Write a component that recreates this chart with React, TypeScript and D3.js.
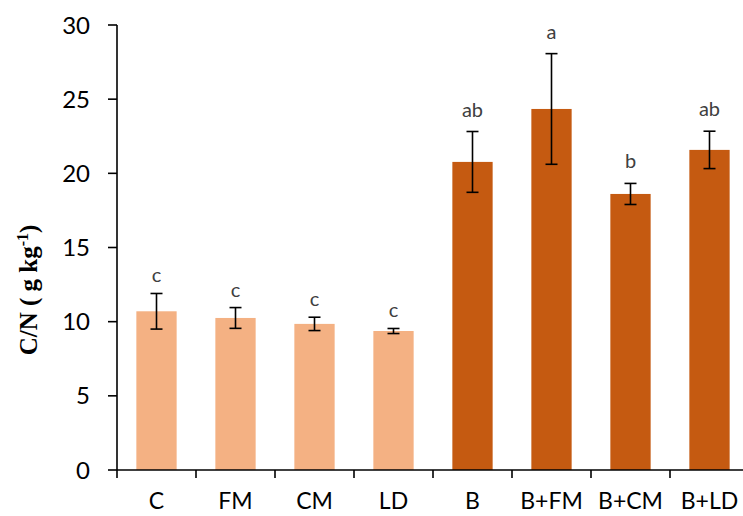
import React from "react";
import * as d3 from "d3";

const categories = ["C", "FM", "CM", "LD", "B", "B+FM", "B+CM", "B+LD"];
const means = [10.7, 10.25, 9.85, 9.37, 20.77, 24.34, 18.61, 21.58];
const errors = [1.2, 0.7, 0.45, 0.17, 2.05, 3.73, 0.71, 1.26];
const letters = ["c", "c", "c", "c", "ab", "a", "b", "ab"];
const groups = ["light", "light", "light", "light", "dark", "dark", "dark", "dark"];
const yTicks = [0, 5, 10, 15, 20, 25, 30];

const W = 743;
const H = 516;
const left = 117;
const right = 749;
const top = 25;
const bottom = 470;

const colors: Record<string, string> = { light: "#F4B183", dark: "#C55A11" };

export default function App() {
  const x = d3.scaleBand<string>().domain(categories).range([left, right]).paddingInner(0.49).paddingOuter(0.245);
  const xb = d3.scaleBand<string>().domain(categories).range([left, right]);
  const y = d3.scaleLinear().domain([0, 30]).range([bottom, top]);
  const font = "Lato, 'Open Sans', sans-serif";
  return (
    <svg width={W} height={H} style={{ position: "absolute", left: 0, top: 0 }}>
      {categories.map((c, i) => (
        <rect key={c} x={x(c)} y={y(means[i])} width={x.bandwidth()} height={y(0) - y(means[i])} fill={colors[groups[i]]} />
      ))}
      {categories.map((c, i) => {
        const cx = (x(c) as number) + x.bandwidth() / 2;
        const y1 = y(means[i] + errors[i]);
        const y2 = y(means[i] - errors[i]);
        return (
          <g key={"e" + c} stroke="#000" strokeWidth={1.6}>
            <line x1={cx} x2={cx} y1={y1} y2={y2} />
            <line x1={cx - 6} x2={cx + 6} y1={y1} y2={y1} />
            <line x1={cx - 6} x2={cx + 6} y1={y2} y2={y2} />
          </g>
        );
      })}
      {categories.map((c, i) => {
        const cx = (x(c) as number) + x.bandwidth() / 2;
        const gap = groups[i] === "light" ? 11 : 15;
        return (
          <text key={"l" + c} x={cx} y={y(means[i] + errors[i]) - gap} textAnchor="middle" fontFamily={font} fontSize={20} fill="#404040">
            {letters[i]}
          </text>
        );
      })}
      {/* y axis */}
      <line x1={left} x2={left} y1={top} y2={bottom} stroke="#000" strokeWidth={1.6} />
      {yTicks.map((t) => (
        <g key={"yt" + t}>
          <line x1={left - 9} x2={left} y1={y(t)} y2={y(t)} stroke="#000" strokeWidth={1.6} />
          <text x={90} y={y(t)} dy="0.36em" textAnchor="end" fontFamily={font} fontSize={24} fill="#000">
            {t}
          </text>
        </g>
      ))}
      {/* x axis */}
      <line x1={left} x2={W} y1={bottom} y2={bottom} stroke="#000" strokeWidth={1.6} />
      {categories.map((c) => (
        <line key={"xt" + c} x1={xb(c)} x2={xb(c)} y1={bottom} y2={bottom + 8} stroke="#000" strokeWidth={1.6} />
      ))}
      {categories.map((c) => (
        <text key={"xl" + c} x={(xb(c) as number) + xb.bandwidth() / 2} y={509} textAnchor="middle" fontFamily={font} fontSize={23} fill="#000">
          {c}
        </text>
      ))}
      <text transform={`translate(37, ${290}) rotate(-90)`} textAnchor="middle" fontFamily="'Liberation Serif', 'Times New Roman', serif" fontWeight="bold" fontSize={25} fill="#000">
        C/N ( g kg<tspan dy="-9" fontSize={16}>-1</tspan><tspan dy="9">)</tspan>
      </text>
    </svg>
  );
}
